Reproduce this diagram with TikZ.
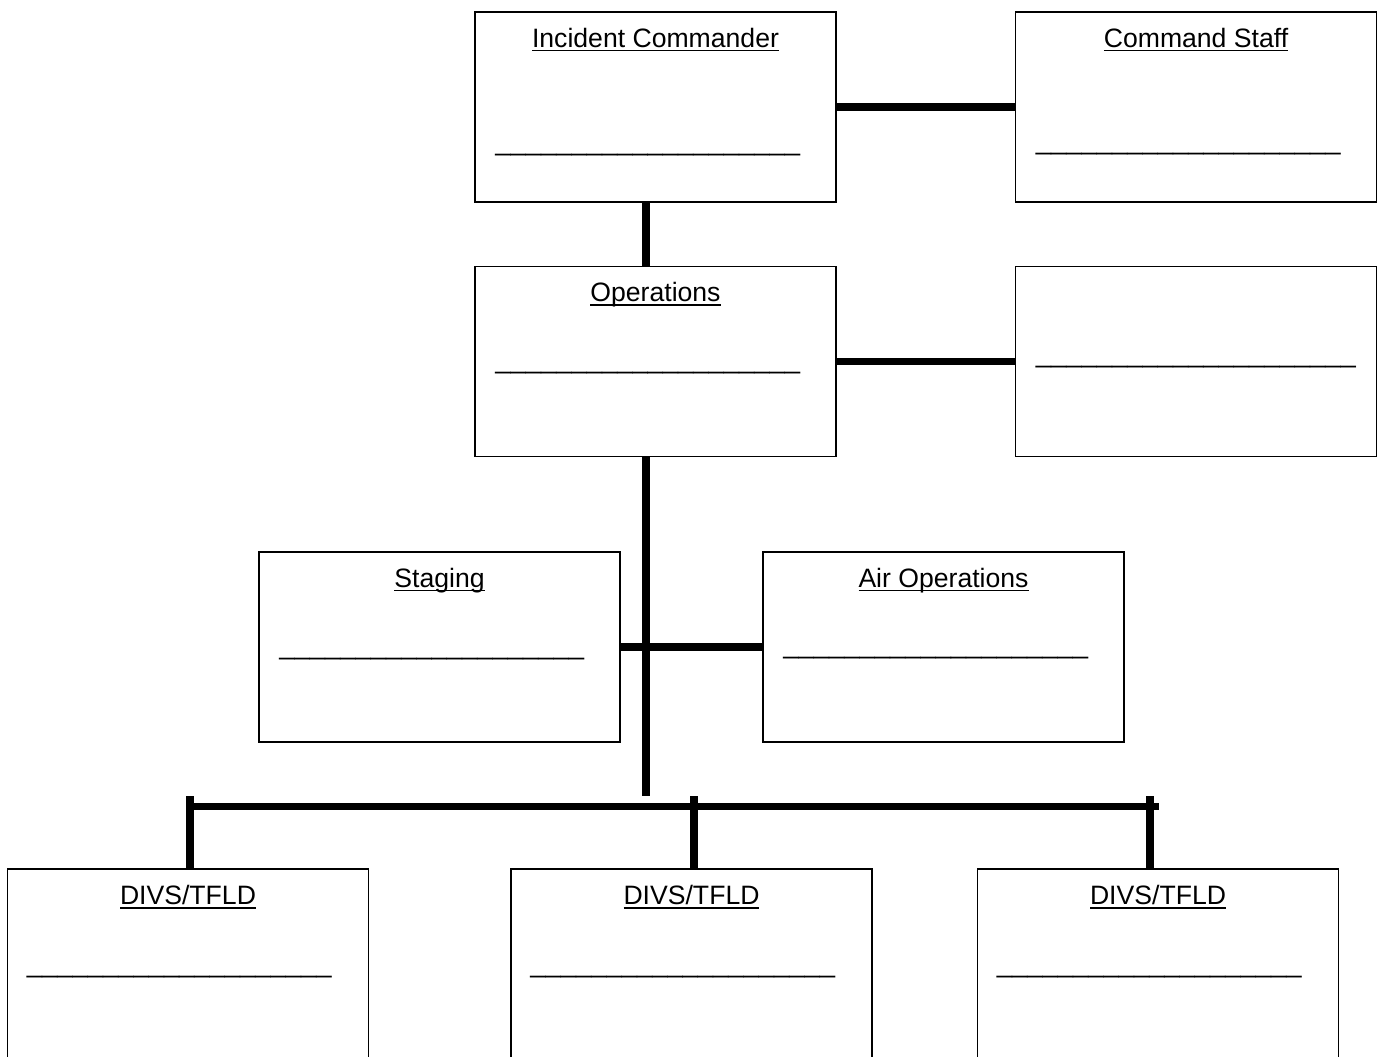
\documentclass[tikz,border=0pt]{standalone}
\usepackage{fontspec}
\setmainfont{Liberation Sans}
\newsavebox\headbox
\newcommand\undertext[1]{\sbox\headbox{#1}\rlap{\vrule height -2.6pt depth 4.2pt width \wd\headbox}\usebox\headbox}
\newcommand\fillin{\_\_\_\_\_\_\_\_\_\_\_\_\_\_\_\_\_\_\_\_}

\begin{document}
\begin{tikzpicture}[x=1pt,y=-1pt,
  box/.style={draw,line width=1.6pt,minimum width=361pt,minimum height=190pt,inner sep=0pt},
  head/.style={inner sep=0pt,anchor=base,font=\fontsize{26.6pt}{32pt}\selectfont},
  fillin/.style={inner sep=0pt,anchor=base west,font=\fontsize{27.4pt}{32pt}\selectfont},
  link/.style={line width=7.5pt}]
\clip(0,0)rectangle(1379,1057);
% boxes
\node[box](ic)at(655.5,107){};
\node[box](cs)at(1196,107){};
\node[box](ops)at(655.5,361.5){};
\node[box](aux)at(1196,361.5){};
\node[box](stg)at(439.5,647){};
\node[box](air)at(943.5,647){};
\node[box](div1)at(188,964){};
\node[box](div2)at(691.5,964){};
\node[box](div3)at(1158,964){};
% titles
\node[head](icT)at([yshift=-36pt]ic.north){\undertext{Incident Commander}};
\node[head](csT)at([yshift=-36pt]cs.north){\undertext{Command Staff}};
\node[head](opsT)at([yshift=-36pt]ops.north){\undertext{Operations}};
\node[head](stgT)at([yshift=-36pt]stg.north){\undertext{Staging}};
\node[head](airT)at([yshift=-36pt]air.north){\undertext{Air Operations}};
\node[head](div1T)at([yshift=-36.5pt]div1.north){\undertext{DIVS/TFLD}};
\node[head](div2T)at([yshift=-36.5pt]div2.north){\undertext{DIVS/TFLD}};
\node[head](div3T)at([yshift=-36.5pt]div3.north){\undertext{DIVS/TFLD}};
% blanks
\node[fillin](icB)at([xshift=21pt,yshift=-139pt]ic.north west){\fillin};
\node[fillin](csB)at([xshift=21pt,yshift=-138.5pt]cs.north west){\fillin};
\node[fillin](opsB)at([xshift=21pt,yshift=-102.5pt]ops.north west){\fillin};
\node[fillin](auxB)at([xshift=21pt,yshift=-97pt]aux.north west){\_\fillin};
\node[fillin](stgB)at([xshift=21pt,yshift=-103.5pt]stg.north west){\fillin};
\node[fillin](airB)at([xshift=21pt,yshift=-102pt]air.north west){\fillin};
\node[fillin](div1B)at([xshift=20pt,yshift=-104pt]div1.north west){\fillin};
\node[fillin](div2B)at([xshift=20pt,yshift=-104pt]div2.north west){\fillin};
\node[fillin](div3B)at([xshift=20pt,yshift=-104pt]div3.north west){\fillin};
% connectors
\coordinate(trunk)at(646,796);
\coordinate(barL)at(186,806.5);
\coordinate(barR)at(1159,806.5);
\coordinate(drop1)at(190,796);
\coordinate(drop2)at(694,796);
\coordinate(drop3)at(1150,796);
\begin{scope}[link]
\draw(ic.east)--(cs.west);
\draw(ic.south-|trunk)--(ops.north-|trunk);
\draw(ops.east)--(aux.west);
\draw(ops.south-|trunk)--(trunk);
\draw(stg.east)--(air.west);
\draw(barL)--(barR);
\draw(drop1)--(drop1|-div1.north);
\draw(drop2)--(drop2|-div2.north);
\draw(drop3)--(drop3|-div3.north);
\end{scope}
\end{tikzpicture}
\end{document}
